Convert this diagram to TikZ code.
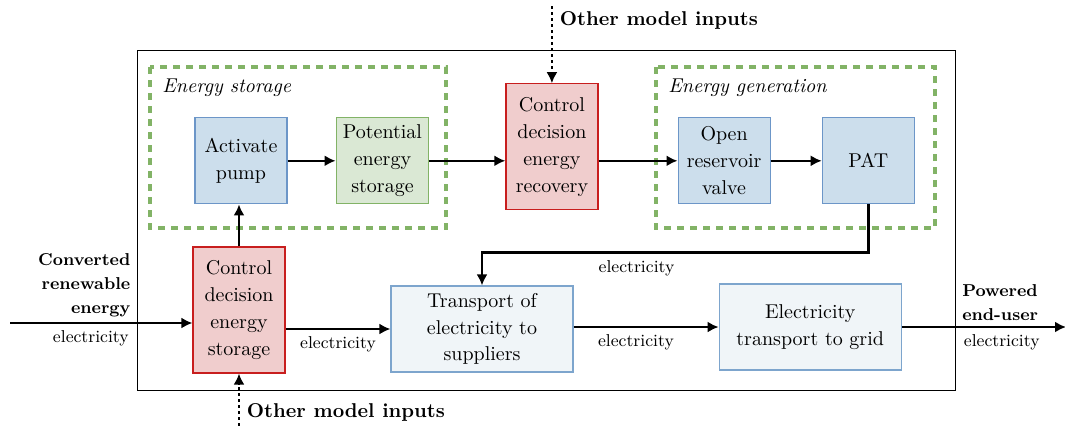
\documentclass[tikz,border=0pt]{standalone}
\usepackage{amsmath}
\usepackage{tikz}
\usetikzlibrary{positioning,arrows.meta}

\definecolor{ctrlfill}{RGB}{240,205,205}
\definecolor{ctrldraw}{RGB}{200,30,30}
\definecolor{bluefill}{RGB}{204,222,236}
\definecolor{bluedraw}{RGB}{108,150,200}
\definecolor{greenfill}{RGB}{218,232,212}
\definecolor{greendraw}{RGB}{130,179,102}
\definecolor{palefill}{RGB}{240,245,248}
\definecolor{paledraw}{RGB}{125,165,205}

\begin{document}
\begin{tikzpicture}[x=0.5pt, y=0.5pt, >={Latex[length=5.5pt,width=5.5pt]},
controlnode/.style={rectangle, draw=ctrldraw, fill=ctrlfill, line width=0.6pt, minimum width=46pt, minimum height=63pt, align=center, font={\linespread{1.12}\selectfont}},
bluenode/.style={rectangle, draw=bluedraw, fill=bluefill, line width=0.6pt, minimum width=46pt, minimum height=43pt, align=center, font={\linespread{1.12}\selectfont}},
greennode/.style={rectangle, draw=greendraw, fill=greenfill, line width=0.6pt, minimum width=46pt, minimum height=43pt, align=center, font={\linespread{1.12}\selectfont}},
palenode/.style={rectangle, draw=paledraw, fill=palefill, line width=0.6pt, minimum width=91pt, minimum height=43pt, align=center, font={\linespread{1.1}\selectfont}},
groupbox/.style={draw=greendraw, line width=1.7pt, dash pattern=on 3.5pt off 3pt},
flow/.style={->, line width=1.25pt},
dotarrow/.style={->, line width=1.25pt, dash pattern=on 1.5pt off 1.5pt},
lbl/.style={font=\fontsize{8.6}{10}\selectfont},
sidelbl/.style={font=\fontsize{8.6}{12}\selectfont\bfseries, inner sep=2.5pt},
]
\useasboundingbox (0,0) rectangle (1065,-425);

%Frames
\draw[line width=0.5pt] (137,-50) rectangle (955,-390);
\draw[groupbox] (150,-67) rectangle (446,-228);
\draw[groupbox] (656,-67) rectangle (935,-228);
\node[anchor=north west, inner sep=2pt] (storagetitle) at (158,-74) {\textit{Energy storage}};
\node[anchor=north west, inner sep=2pt] (gentitle) at (664,-74) {\textit{Energy generation}};

%Nodes
\node[controlnode]  (ctrlstore)  at (239,-310)                      {Control\\decision\\energy\\storage};
\node[bluenode]     (pump)       [above=21pt of ctrlstore, xshift=1pt] {Activate\\pump};
\node[greennode]    (potential)  [right=24pt of pump]               {Potential\\energy\\storage};
\node[controlnode]  (recovery)   [right=38pt of potential, yshift=7pt] {Control\\decision\\energy\\recovery};
\node[bluenode]     (valve)      [right=39.5pt of recovery, yshift=-7pt] {Open\\reservoir\\valve};
\node[bluenode]     (pat)        [right=25.5pt of valve]            {PAT};
\node[palenode]     (transport)  at (482,-329)                      {Transport of\\electricity to\\suppliers};
\node[palenode]     (grid)       [right=72.5pt of transport, yshift=1pt] {Electricity\\transport to grid};

\coordinate (in) at (10,-323);
\coordinate (out) at (1066,-327);
\coordinate[above=38.5pt of recovery] (topin);
\coordinate[below=26pt of ctrlstore] (bottomin);

%Lines
\draw[flow] (in) -- node[pos=0.694, above left, align=right, sidelbl] {Converted\\renewable\\energy}
                    node[pos=0.694, below left, lbl] {electricity} (ctrlstore.west |- in);
\draw[flow] (ctrlstore.north |- pump.south) ++(0,-42) -- (ctrlstore.north |- pump.south);
\draw[flow] (pump.east) -- (potential.west);
\draw[flow] (potential.east) -- (recovery.west |- potential.east);
\draw[flow] (recovery.east |- valve.west) -- (valve.west);
\draw[flow] (valve.east) -- (pat.west);
\draw[flow] (pat.south) -- ++(0,-48) -| node[pos=0.3, below, lbl] {electricity} (transport.north);
\draw[flow] (ctrlstore.east |- transport.west) -- node[midway, below, lbl] {electricity} (transport.west);
\draw[flow] (transport.east |- grid.west) -- node[pos=0.43, below, lbl] {electricity} (grid.west);
\draw[flow] (grid.east) -- node[pos=0.33, above right, align=left, sidelbl] {Powered\\end-user}
                          node[pos=0.33, below right, lbl] {electricity} (out);
\draw[dotarrow] (topin) -- node[pos=0.18, right, font=\bfseries] {Other model inputs} (recovery.north);
\draw[dotarrow] (bottomin) -- node[pos=0.25, right, font=\bfseries] {Other model inputs} (ctrlstore.south);
\end{tikzpicture}
\end{document}
